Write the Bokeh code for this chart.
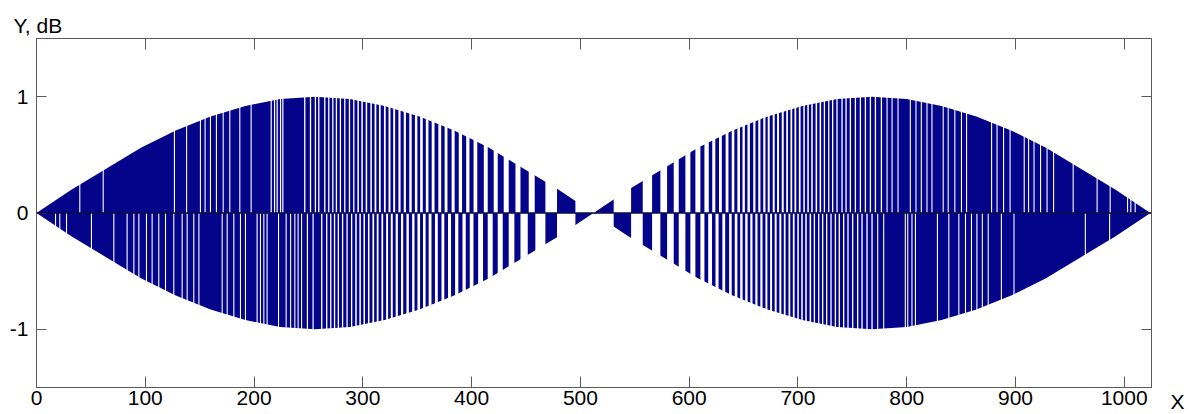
from bokeh.plotting import figure
from bokeh.models import Range1d, FixedTicker, LinearAxis, Title, Span, ColumnDataSource
from bokeh.embed import file_html
from bokeh.resources import INLINE

# ---------------- data ----------------
X_TICKS = [0, 100, 200, 300, 400, 500, 600, 700, 800, 900, 1000]
Y_TICKS = [-1, 0, 1]
Y_TICK_LABELS = {-1: "-1", 0: "0", 1: "1"}
Y_CAPTION = "Y, dB"
X_CAPTION = "X"

# envelope of the signal (upper and lower), sampled every 32 samples
ENV_X = [0, 32, 64, 96, 128, 160, 192, 224, 256, 288, 320, 352, 384, 416, 448, 480, 512,
         544, 576, 608, 640, 672, 704, 736, 768, 800, 832, 864, 896, 928, 960, 992, 1024]
ENV_TOP = [0.00, 0.20, 0.38, 0.56, 0.71, 0.83, 0.92, 0.98, 1.00, 0.98, 0.92, 0.83, 0.71, 0.56, 0.38, 0.20, 0.00,
           0.20, 0.38, 0.56, 0.71, 0.83, 0.92, 0.98, 1.00, 0.98, 0.92, 0.83, 0.71, 0.56, 0.38, 0.20, 0.00]
ENV_BOTTOM = [0.00, -0.20, -0.38, -0.56, -0.71, -0.83, -0.92, -0.98, -1.00, -0.98, -0.92, -0.83, -0.71, -0.56, -0.38, -0.20, 0.00,
              -0.20, -0.38, -0.56, -0.71, -0.83, -0.92, -0.98, -1.00, -0.98, -0.92, -0.83, -0.71, -0.56, -0.38, -0.20, 0.00]

# x-intervals where the upper half (y > 0) is empty
UPPER_GAPS = [
    (39.3, 40.3), (60.8, 61.8), (126.3, 127.3), (137.5, 138.5), (150.2, 151.2), (154.5, 155.5),
    (159.4, 160.4), (164.9, 165.9), (171.1, 172.1), (177.2, 178.2), (186.4, 187.4), (196.8, 197.8),
    (215.2, 216.3), (218.3, 219.4), (220.7, 221.8), (223.8, 224.9), (225.9, 227.0),
    (246.0, 247.2), (251.3, 252.5), (255.8, 257.0), (258.9, 260.1), (264.4, 265.6), (268.1, 269.3),
    (271.8, 273.0), (275.1, 276.3), (278.8, 280.0), (282.8, 284.0), (287.1, 288.3), (291.1, 292.3),
    (295.0, 296.4), (298.6, 300.0), (302.6, 304.0), (306.9, 308.3), (310.8, 312.4), (314.8, 316.4),
    (319.4, 321.0), (323.6, 325.4), (327.9, 329.7), (332.7, 334.7), (337.6, 339.6), (342.7, 344.9),
    (347.9, 350.1), (352.7, 355.1), (357.9, 360.3), (363.3, 365.9), (369.4, 372.0), (375.2, 377.8),
    (381.6, 384.4), (388.2, 391.2), (395.0, 398.0), (401.8, 405.2),
    (411.2, 414.8), (420.3, 424.0), (429.5, 434.1), (440.3, 444.9), (452.5, 458.0), (467.8, 478.5),
    (495.4, 513.8), (530.6, 546.6), (557.3, 565.9), (573.5, 579.7), (585.8, 590.4), (596.5, 601.1),
    (605.7, 610.3), (614.0, 618.0),
    (621.2, 624.0), (627.4, 630.0), (633.5, 636.1), (639.1, 641.5), (644.3, 646.7), (649.0, 651.2),
    (653.6, 655.8), (658.9, 660.9), (663.5, 665.5), (668.1, 670.1), (672.2, 674.0), (676.8, 678.6),
    (680.8, 682.6), (685.1, 686.9), (689.2, 690.8), (693.1, 694.7), (696.8, 698.4), (700.8, 702.4),
    (704.9, 706.3), (708.6, 710.0), (712.2, 713.6), (716.2, 717.6), (719.9, 721.3), (723.7, 724.9),
    (727.7, 728.9), (731.3, 732.5), (735.3, 736.5), (739.9, 741.1), (743.6, 744.8), (747.6, 748.8),
    (752.2, 753.4), (756.8, 758.0), (761.4, 762.6), (766.0, 767.2), (770.6, 771.8), (776.1, 777.3),
    (781.4, 782.4), (786.0, 787.0), (791.5, 792.5), (802.8, 803.8), (808.0, 809.0), (812.9, 813.9),
    (818.1, 819.1), (822.7, 823.7), (833.0, 834.0), (837.6, 838.6), (843.7, 844.7), (849.8, 850.8),
    (854.5, 855.5), (877.5, 878.5), (882.5, 883.5), (888.5, 889.5), (894.5, 895.5), (907.5, 908.5),
    (911.5, 912.5), (916.5, 917.5), (922.5, 923.5), (928.5, 929.5), (934.5, 935.5), (952.5, 953.5),
    (974.5, 975.5), (986.5, 987.5), (1002.5, 1003.5), (1005.5, 1006.5), (1009.5, 1010.5),
]

# x-intervals where the lower half (y < 0) is empty
LOWER_GAPS = [
    (17.0, 18.0), (20.9, 21.9), (27.1, 28.1), (50.0, 51.0), (70.6, 71.6), (82.8, 83.8), (89.0, 90.0),
    (93.6, 94.6), (100.6, 101.6), (105.8, 106.8), (111.9, 112.9), (118.1, 119.1), (125.7, 126.7),
    (133.4, 134.4), (138.0, 139.0), (144.1, 145.1), (148.8, 149.8), (170.2, 171.2), (174.8, 175.8),
    (180.9, 181.9), (187.0, 188.0), (191.6, 192.6),
    (202.3, 203.3), (205.4, 206.4), (208.5, 209.5), (211.5, 212.5), (222.0, 223.0), (229.0, 230.0),
    (233.1, 234.1), (237.0, 238.0), (240.0, 241.0), (243.2, 244.2), (248.5, 249.6), (253.7, 254.8),
    (261.6, 262.8), (266.2, 267.4), (269.9, 271.1), (273.4, 274.6), (276.9, 278.1), (280.8, 282.0),
    (284.9, 286.1), (289.1, 290.3), (293.0, 294.4), (296.8, 298.2), (300.6, 302.0), (304.7, 306.1),
    (308.8, 310.4), (312.8, 314.4), (317.1, 318.7), (321.4, 323.2), (325.7, 327.5), (330.2, 332.2),
    (335.1, 337.1), (340.1, 342.3), (345.3, 347.5), (350.2, 352.6), (355.3, 357.7), (360.5, 363.1),
    (366.3, 368.9), (372.3, 374.9), (378.3, 381.1), (384.8, 387.8), (391.6, 394.6), (398.3, 401.7),
    (406.0, 410.5), (414.8, 419.4), (424.0, 428.6), (434.1, 439.3), (444.9, 451.6), (458.6, 467.8),
    (478.5, 495.4), (513.8, 530.6), (546.6, 557.3), (565.9, 573.5), (579.7, 585.8), (590.4, 596.5),
    (601.1, 605.7), (610.3, 614.0), (617.5, 621.0),
    (624.2, 627.0), (630.5, 633.1), (636.7, 639.1), (641.9, 644.3), (646.9, 649.1), (651.5, 653.7),
    (656.2, 658.2), (660.8, 662.8), (665.4, 667.4), (670.1, 671.9), (674.4, 676.2), (678.6, 680.4),
    (682.9, 684.7), (687.0, 688.6), (691.3, 692.9), (695.3, 696.9), (699.4, 700.8), (703.0, 704.4),
    (706.7, 708.1), (710.7, 712.1), (714.5, 715.7), (718.5, 719.7), (722.1, 723.3), (725.8, 727.0),
    (729.8, 731.0), (733.8, 735.0), (737.4, 738.6), (741.4, 742.6), (745.4, 746.6), (749.7, 750.9),
    (754.3, 755.5), (758.3, 759.5), (762.9, 764.1), (767.5, 768.7), (772.8, 773.8), (778.3, 779.3),
    (798.2, 799.2), (800.4, 801.4), (804.3, 805.3), (807.5, 808.5), (827.7, 828.7), (838.2, 839.2),
    (847.4, 848.4), (853.5, 854.5), (859.0, 860.0), (864.0, 865.0), (869.0, 870.0), (874.4, 875.4),
    (886.5, 887.5), (898.1, 899.1), (963.7, 964.7), (986.0, 987.0),
]

# ---------------- styling ----------------
NAVY = "#04048a"
ZERO = "#0b0b45"
FRAME = "#5a5a5a"
FONT = "Liberation Sans"
FS = "21px"
X_MIN, X_MAX = 0, 1025
Y_MIN, Y_MAX = -1.5, 1.5

p = figure(width=1189, height=414, output_backend="svg", toolbar_location=None, tools="",
           x_range=Range1d(X_MIN, X_MAX), y_range=Range1d(Y_MIN, Y_MAX),
           min_border_left=36, min_border_right=38, min_border_top=38, min_border_bottom=27)
p.background_fill_color = "white"
p.border_fill_color = "white"
p.outline_line_color = FRAME
p.outline_line_width = 1
p.xgrid.visible = False
p.ygrid.visible = False

p.varea(x=ENV_X, y1=ENV_BOTTOM, y2=ENV_TOP, fill_color=NAVY)

up = ColumnDataSource(dict(l=[g[0] for g in UPPER_GAPS], r=[g[1] for g in UPPER_GAPS]))
lo = ColumnDataSource(dict(l=[g[0] for g in LOWER_GAPS], r=[g[1] for g in LOWER_GAPS]))
p.quad(left="l", right="r", bottom=0, top=1.2, source=up, fill_color="white", line_color=None)
p.quad(left="l", right="r", bottom=-1.2, top=0, source=lo, fill_color="white", line_color=None)

p.add_layout(Span(location=0, dimension="width", line_color=ZERO, line_width=1.6))


def style(ax, ticks, tick_in, font_size=FS):
    ax.ticker = FixedTicker(ticks=ticks)
    ax.major_tick_in = tick_in
    ax.major_tick_out = 0
    ax.minor_tick_line_color = None
    ax.axis_line_color = FRAME
    ax.major_tick_line_color = FRAME
    ax.major_label_text_font = FONT
    ax.major_label_text_color = "black"
    ax.major_label_text_font_size = font_size


style(p.xaxis[0], X_TICKS, 11)
p.xaxis[0].major_label_standoff = 3
style(p.yaxis[0], Y_TICKS, 10)
p.yaxis[0].major_label_standoff = 8
p.yaxis[0].major_label_overrides = Y_TICK_LABELS

# box ticks on the top side, no labels
top_ax = LinearAxis()
style(top_ax, X_TICKS, 11, "0px")
top_ax.major_label_standoff = 0
top_ax.major_label_overrides = {t: "" for t in X_TICKS}
p.add_layout(top_ax, "above")

# box ticks on the right side; the "X" caption sits beside the bottom-right corner
right_ax = LinearAxis()
style(right_ax, [Y_MIN] + Y_TICKS, 10)
right_ax.major_label_standoff = 19
right_overrides = {t: "" for t in Y_TICKS}
right_overrides[Y_MIN] = "\n" + X_CAPTION
right_ax.major_label_overrides = right_overrides
p.add_layout(right_ax, "right")

# "Y, dB" caption above the top-left corner
p.add_layout(Title(text=Y_CAPTION, align="left", offset=-23, standoff=3,
                   text_font=FONT, text_font_size=FS, text_font_style="normal",
                   text_color="black"), "above")

open("out.html", "w").write(file_html(p, INLINE))
